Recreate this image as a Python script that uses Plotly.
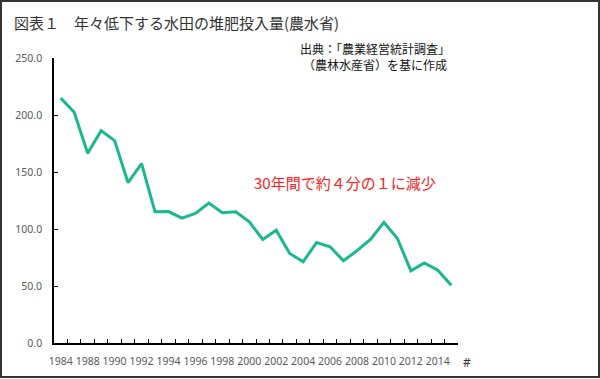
import plotly.graph_objects as go

years = ["1984", "1987", "1988", "1989", "1990", "1991", "1992", "1993", "1994", "1995",
         "1996", "1997", "1998", "1999", "2000", "2001", "2002", "2003", "2004", "2005",
         "2006", "2007", "2008", "2009", "2010", "2011", "2012", "2013", "2014", "2015"]
values = [214.8, 202.4, 166.4, 186.3, 177.5, 140.6, 157.3, 115.1, 115.3, 109.5,
          113.7, 122.8, 114.2, 115.1, 106.3, 90.9, 99.0, 78.5, 71.2, 88.2,
          84.4, 72.1, 81.0, 90.9, 105.8, 91.7, 63.3, 70.3, 63.9, 50.7]
y_ticks = [0, 50, 100, 150, 200, 250]

tick_text = [y if i % 2 == 0 else "" for i, y in enumerate(years)]

fig = go.Figure()
fig.add_trace(go.Scatter(
    x=years, y=values, mode="lines",
    line=dict(color="#1AB88F", width=3),
    showlegend=False, hoverinfo="skip",
))

L, R, T, B = 54, 142, 58, 36
W, H = 600, 379
pw, ph = W - L - R, H - T - B

fig.update_layout(
    width=W, height=H,
    margin=dict(l=L, r=R, t=T, b=B),
    paper_bgcolor="white", plot_bgcolor="white",
    font=dict(family="Noto Sans, Noto Sans CJK JP", color="#595959"),
    xaxis=dict(
        type="category",
        tickmode="array", tickvals=years, ticktext=tick_text,
        tickson="boundaries", ticks="inside", ticklen=4, tickcolor="#000", tickwidth=1,
        showline=True, linecolor="#000", linewidth=1.5,
        showgrid=False, zeroline=False,
        tickangle=0, automargin=False,
        tickfont=dict(size=10.5, color="#595959", family="Noto Sans"),
        ticklabelstandoff=8,
        range=[-0.5, len(years) - 0.5],
    ),
    yaxis=dict(
        range=[0, 250], tickmode="array", tickvals=y_ticks,
        tickformat=".1f", automargin=False,
        ticks="inside", ticklen=4, tickcolor="#000", tickwidth=1,
        showline=True, linecolor="#000", linewidth=1.5,
        showgrid=False, zeroline=False,
        tickfont=dict(size=10.5, color="#595959", family="Noto Sans"),
        ticklabelstandoff=8,
    ),
)

def px(xp):
    return (xp - L) / pw

def py(yp):
    return (H - B - yp) / ph

fig.add_shape(type="rect", xref="paper", yref="paper",
              x0=px(1), x1=px(599), y0=py(377), y1=py(1),
              line=dict(color="#333333", width=2), fillcolor="rgba(0,0,0,0)", layer="above")

fig.add_annotation(xref="paper", yref="paper", x=px(12), y=py(22), xanchor="left", yanchor="middle",
                   text="図表１　年々低下する水田の堆肥投入量(農水省)", showarrow=False,
                   font=dict(size=15, color="#333333", family="Noto Sans CJK JP"))

fig.add_annotation(xref="paper", yref="paper", x=px(375), y=py(56.5), xanchor="center", yanchor="middle",
                   text="出典：「農業経営統計調査」<br>（農林水産省）を基に作成", showarrow=False,
                   align="center",
                   font=dict(size=12, color="#111111", family="Noto Sans CJK JP"))

fig.add_annotation(xref="paper", yref="paper", x=px(252), y=py(182), xanchor="left", yanchor="middle",
                   text="30年間で約４分の１に減少", showarrow=False,
                   font=dict(size=15, color="#FF2020", family="Noto Sans CJK JP"))

fig.add_annotation(xref="paper", yref="paper", x=px(467), y=py(362), xanchor="center", yanchor="middle",
                   text="#", showarrow=False,
                   font=dict(size=12, color="#333333", family="Noto Sans"))

fig.write_html("out.html", config={"displayModeBar": False},
               post_script="document.body.style.margin='0';document.body.style.overflow='hidden';")
